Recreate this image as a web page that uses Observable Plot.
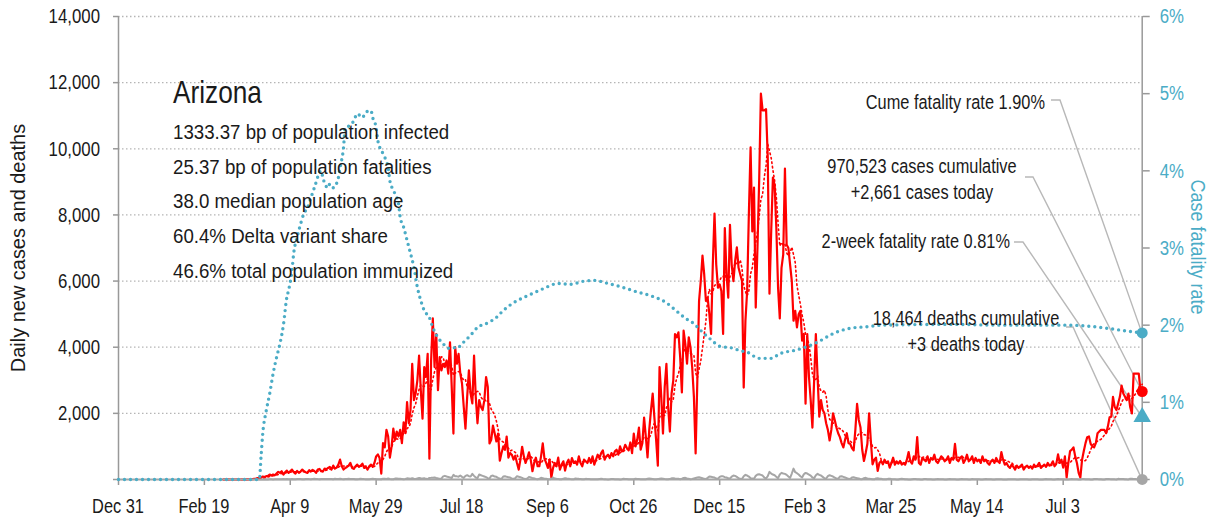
<!DOCTYPE html>
<html><head><meta charset="utf-8">
<script src="https://cdn.jsdelivr.net/npm/d3@7"></script>
<script src="https://cdn.jsdelivr.net/npm/@observablehq/plot@0.6"></script>
<style>
html,body{margin:0;padding:0;background:#fff;}
#chart svg{display:block;}
</style></head><body><div id="chart"></div>
<script>
// ---------------- DATA ----------------
const seriesStartDate = "2020-03-01";
const axisStartDate = "2019-12-31";

// daily new cases, Mar 1 2020 .. Dec 31 2020
const cases2020 = [
  0,0,0,0,0,0,0,0,0,0,0,0,0,0,5,5,10,12,20,25,40,50,60,90,75,100,110,150,120,150,130,
  180,230,200,250,150,220,270,200,250,300,220,180,260,200,240,300,250,220,200,280,240,290,260,200,300,320,250,240,330,310,
  350,380,300,420,330,360,450,600,400,300,350,380,420,500,350,320,400,450,380,420,480,350,380,300,400,450,380,500,700,760,650,
  180,1100,970,1500,1300,660,1000,1540,1200,1450,1300,1500,1100,1730,1400,2340,1700,2100,3500,2400,2600,3000,3750,2700,1840,3400,3100,3800,630,3600,
  4870,3400,4400,2700,3700,3300,3500,3400,3600,3200,4150,2800,1390,4000,3500,3800,3200,2900,2200,1540,2500,3300,2600,2300,3750,2500,1700,2400,2200,2100,2400,
  3100,2800,1090,1200,1630,1400,1150,1390,570,800,1000,900,1300,660,800,750,600,720,500,300,600,990,700,500,650,820,600,250,500,660,400,
  400,700,1090,630,500,350,600,60,350,500,400,660,300,450,550,270,500,600,400,650,500,550,450,700,500,400,600,550,500,650,
  500,700,450,600,750,650,800,880,600,700,750,650,800,700,850,900,750,1000,850,900,1050,950,880,1120,800,1390,1000,1200,1570,900,1100,
  1870,1300,670,1500,2090,2600,1870,1200,420,3400,2500,1390,2800,3500,2200,1450,2600,3000,4400,4300,4450,3700,2630,4500,4100,3500,4300,4000,3400,2500,
  790,3000,5400,6000,6770,6200,5400,5500,5000,4400,6500,8040,6500,5800,5900,5700,4400,7600,6200,5500,7700,6500,6000,6600,7020,6400,6200,6000,2780,4800,5700
];
// daily new cases, Jan 1 2021 .. Aug 18 2021
const cases2021 = [
  8040,10040,7500,8830,5200,7000,9040,11670,11160,11160,11200,9740,5620,7500,9130,8900,7600,5800,4870,6400,6800,9400,7100,7000,6500,6000,4800,5100,4600,5000,5100,
  4200,4400,2290,4400,3100,2400,1570,3000,4400,3100,1900,2400,2100,2000,1700,1500,1180,1500,2000,1800,1570,1400,1280,1100,970,1200,1400,1100,
  1080,950,880,1500,2290,1800,1570,900,560,800,1080,2000,1180,460,600,660,260,500,560,460,600,500,550,360,500,660,450,550,480,560,450,
  500,450,600,830,550,480,700,600,1280,500,450,650,600,550,700,500,650,600,750,550,500,600,700,650,550,600,700,500,650,600,
  1080,600,550,650,700,500,600,750,550,600,700,500,650,550,600,500,700,550,600,500,450,550,600,500,650,550,500,830,600,450,500,
  400,350,450,380,300,420,350,400,450,300,380,420,350,400,330,450,380,420,500,350,400,450,380,500,420,450,550,400,480,760,
  500,600,360,700,60,500,860,900,970,700,500,200,60,600,860,1100,1280,1300,1080,1000,970,1100,1400,1450,1500,1500,1500,1400,1600,1880,1900,
  2500,2190,2100,2300,2500,2840,2600,2500,2400,2600,2190,2000,3200,3200,3200,3200,2700,2661
];
// daily new deaths, Mar 1 2020 .. Dec 31 2020
const deaths2020 = [
  0,0,0,0,0,0,0,0,0,0,0,0,0,0,0,0,0,0,0,1,0,1,2,1,3,2,3,4,5,3,6,
  8,5,10,7,12,9,15,8,11,14,10,9,12,15,13,11,9,14,18,12,10,15,20,16,12,10,18,15,12,14,
  15,12,18,10,20,14,16,22,12,10,18,15,20,14,12,16,8,10,14,20,18,12,10,6,8,15,22,18,12,10,8,
  10,25,20,15,30,18,10,8,28,32,25,20,15,10,18,35,30,25,40,22,15,30,45,35,28,40,20,15,48,50,
  55,60,45,35,20,30,95,110,90,75,60,45,140,100,95,85,120,80,50,110,130,100,90,170,110,60,40,150,130,110,90,
  70,40,30,110,120,90,80,50,25,20,90,100,80,70,60,25,20,40,100,85,70,50,20,15,30,80,60,40,35,15,10,
  20,50,40,25,20,10,5,15,60,30,20,15,10,8,25,40,30,25,15,10,5,30,25,20,18,10,5,20,15,12,
  10,8,6,5,10,15,20,12,10,5,3,8,15,12,10,8,5,3,10,20,15,12,8,6,4,10,25,15,12,10,5,
  5,10,20,30,25,18,10,8,12,25,30,22,15,10,5,20,35,40,30,25,20,10,25,45,50,30,20,10,15,30,
  45,60,70,55,40,20,15,50,90,80,70,60,30,20,80,100,95,70,60,35,25,90,120,110,80,40,20,15,100,140,120
];
// daily new deaths, Jan 1 2021 .. Aug 18 2021
const deaths2021 = [
  90,40,30,20,110,150,160,140,120,60,30,100,230,180,150,130,80,40,150,200,180,170,140,90,50,180,330,220,190,150,100,
  60,160,200,180,150,120,60,40,130,170,140,120,80,40,30,100,130,110,90,60,30,20,90,100,80,60,40,20,
  15,60,70,50,40,30,10,10,40,50,30,25,15,5,5,30,40,25,20,10,5,5,20,25,15,10,8,3,3,15,20,
  15,10,8,3,2,10,15,12,10,8,3,2,12,15,10,8,5,2,2,10,12,10,8,5,3,2,10,12,8,6,
  5,2,1,10,12,8,6,4,2,1,12,10,8,5,4,2,1,10,12,8,6,4,2,1,8,10,6,5,3,1,1,
  8,10,6,5,4,2,1,8,10,6,5,4,2,1,10,8,6,5,3,2,1,10,12,8,6,4,2,1,10,12,
  8,6,4,2,1,0,10,12,8,6,4,2,1,12,15,10,8,5,3,2,15,18,12,10,6,3,2,15,18,12,10,
  8,4,2,20,18,15,12,8,4,3,22,20,15,12,8,5,4,3
];

// cumulative case fatality rate (%)
const cfrDates = [
  "2019-12-31","2020-03-22","2020-03-23","2020-03-24","2020-03-26","2020-03-28","2020-03-30","2020-04-01","2020-04-03","2020-04-05",
  "2020-04-07","2020-04-08","2020-04-10","2020-04-11","2020-04-13","2020-04-15","2020-04-17","2020-04-19","2020-04-21","2020-04-23",
  "2020-04-27","2020-04-28","2020-05-01","2020-05-02","2020-05-04","2020-05-07","2020-05-08","2020-05-10","2020-05-11","2020-05-14",
  "2020-05-16","2020-05-18","2020-05-21","2020-05-23","2020-05-26","2020-05-27","2020-05-29","2020-05-30","2020-06-02","2020-06-05",
  "2020-06-06","2020-06-08","2020-06-11","2020-06-12","2020-06-14","2020-06-16","2020-06-18","2020-06-20","2020-06-22","2020-06-24",
  "2020-06-26","2020-06-29","2020-07-01","2020-07-04","2020-07-07","2020-07-10","2020-07-13","2020-07-15","2020-07-18","2020-07-23",
  "2020-07-27","2020-08-02","2020-08-07","2020-08-11","2020-08-17","2020-08-27","2020-09-03","2020-09-12","2020-09-19","2020-09-27",
  "2020-10-03","2020-10-11","2020-10-18","2020-10-28","2020-11-05","2020-11-14","2020-11-19","2020-11-25","2020-11-30","2020-12-04",
  "2020-12-09","2020-12-16","2020-12-21","2020-12-27","2020-12-31","2021-01-07","2021-01-14","2021-01-19","2021-01-29","2021-02-10",
  "2021-02-19","2021-03-01","2021-03-11","2021-03-20","2021-04-29","2021-05-28","2021-07-05","2021-07-25","2021-08-07","2021-08-18"
];
const cfrValues = [
  0,0,0.3,0.6,0.89,1.11,1.37,1.58,1.76,2.0,
  2.36,2.45,2.71,2.93,3.14,3.31,3.45,3.52,3.65,3.78,
  4.0,3.91,3.78,3.83,3.78,3.91,4.04,4.3,4.56,4.59,
  4.65,4.74,4.69,4.76,4.78,4.69,4.56,4.39,4.22,4.04,
  3.87,3.75,3.58,3.40,3.27,3.10,2.93,2.75,2.49,2.32,
  2.19,2.10,1.97,1.84,1.76,1.70,1.71,1.70,1.76,1.87,
  1.97,2.03,2.10,2.19,2.29,2.40,2.47,2.54,2.53,2.57,
  2.58,2.54,2.50,2.43,2.38,2.29,2.20,2.09,2.02,1.93,
  1.83,1.72,1.71,1.67,1.65,1.57,1.57,1.63,1.68,1.78,
  1.89,1.96,1.98,2.0,2.01,2.0,2.0,1.97,1.93,1.90
];

const xTickDates = ["2019-12-31","2020-02-19","2020-04-09","2020-05-29","2020-07-18","2020-09-06","2020-10-26","2020-12-15","2021-02-03","2021-03-25","2021-05-14","2021-07-03"];
const leftTicks = [0,2000,4000,6000,8000,10000,12000,14000];
const rightTicks = [0,1,2,3,4,5,6];

const stateName = "Arizona";
const statLines = [
  "1333.37 bp of population infected",
  "25.37 bp of population fatalities",
  "38.0 median population age",
  "60.4% Delta variant share",
  "46.6% total population immunized"
];
const cumeCFR = 1.90, twoWeekCFR = 0.81;
const casesCumulative = 970523, casesToday = 2661;
const deathsCumulative = 18464, deathsToday = 3;
const yTitleLeft = "Daily new cases and deaths";
const yTitleRight = "Case fatality rate";

// ---------------- BUILD ----------------
const FONT = '"Liberation Sans", Arial, sans-serif';
const BLUE = "#4bacc6", RED = "#ff0000", GREY = "#a6a6a6", AXIS = "#999999", INK = "#1a1a1a";
const Y_MAX = 14000, CFR_MAX = 6;
const toY = p => p * Y_MAX / CFR_MAX;
const parse = d3.utcParse("%Y-%m-%d");
const start = parse(seriesStartDate);
const casesAll = cases2020.concat(cases2021);
const deathsAll = deaths2020.concat(deaths2021);
const daily = casesAll.map((c, i) => ({date: d3.utcDay.offset(start, i), cases: c, deaths: deathsAll[i]}));
const cfr = cfrDates.map((d, i) => ({date: parse(d), cfr: cfrValues[i]}));
const lastDate = daily[daily.length - 1].date;
const fmt = d3.format(",");
const noText = () => "";

const chart = Plot.plot({
  width: 1208, height: 520,
  marginLeft: 118, marginRight: 66.3, marginTop: 16, marginBottom: 41,
  x: {type: "utc", domain: [parse(axisStartDate), lastDate]},
  y: {domain: [0, Y_MAX]},
  style: {fontFamily: FONT, background: "#fff", overflow: "visible"},
  marks: [
    Plot.ruleY(leftTicks.filter(d => d > 0), {stroke: "#b5b5b5", strokeWidth: 1.3, strokeDasharray: "1.5,2.5"}),
    Plot.axisY(leftTicks, {anchor: "left", tickSize: 5, stroke: AXIS, strokeWidth: 1.5, tickFormat: noText, label: null}),
    Plot.axisY(rightTicks.map(toY), {anchor: "right", tickSize: 7, stroke: AXIS, strokeWidth: 1.5, tickFormat: noText, label: null}),
    Plot.axisX(xTickDates.map(parse), {anchor: "bottom", tickSize: 6, stroke: AXIS, strokeWidth: 1.5, tickFormat: noText, label: null}),
    Plot.ruleX([parse(axisStartDate), lastDate], {stroke: AXIS, strokeWidth: 1.5}),
    Plot.ruleY([0], {stroke: GREY, strokeWidth: 2}),
    Plot.lineY(daily, Plot.windowY({k: 7, anchor: "end", reduce: "mean"}, {x: "date", y: "cases", stroke: RED, strokeWidth: 1.6, strokeDasharray: "1.5,3"})),
    Plot.lineY(daily, {x: "date", y: "cases", stroke: RED, strokeWidth: 2.2}),
    Plot.lineY(daily, {x: "date", y: "deaths", stroke: GREY, strokeWidth: 2}),
    Plot.line(cfr, {x: "date", y: d => toY(d.cfr), stroke: BLUE, strokeWidth: 3.4, strokeDasharray: "0,6", strokeLinecap: "round", curve: "monotone-x"}),
    Plot.dot([{date: lastDate, v: toY(cumeCFR)}], {x: "date", y: "v", r: 5.5, fill: BLUE}),
    Plot.dot([{date: lastDate, v: casesToday}], {x: "date", y: "v", r: 5.5, fill: RED}),
    Plot.dot([{date: lastDate, v: toY(twoWeekCFR)}], {x: "date", y: "v", r: 6.5, fill: BLUE, symbol: "triangle"}),
    Plot.dot([{date: lastDate, v: deathsToday}], {x: "date", y: "v", r: 5.5, fill: GREY})
  ]
});
document.getElementById("chart").appendChild(chart);
// drop the empty label nodes of the tick-only axes
chart.querySelectorAll("text").forEach(n => { if (!n.textContent) n.remove(); });

// ---------------- TEXT ----------------
const svg = d3.select(chart);
const sx = chart.scale("x"), sy = chart.scale("y");
const g = svg.append("g").attr("font-family", FONT).attr("fill", INK).attr("text-anchor", "start");
function label(x, y, size, s, txt, anchor = "start", extra = "") {
  return g.append("text").attr("transform", `translate(${x},${y}) ${extra} scale(${s},1)`)
    .attr("font-size", size).attr("text-anchor", anchor).text(txt);
}

// axis tick labels, placed through the chart's scales
const x0 = sx.apply(parse(axisStartDate)), xEnd = sx.apply(lastDate), yBase = sy.apply(0);
leftTicks.filter(d => d > 0).forEach(v => label(x0 - 18, sy.apply(v) + 7.3, 20.5, 0.82, fmt(v), "end"));
rightTicks.forEach(p => label(xEnd + 18, sy.apply(toY(p)) + 7.3, 20.5, 0.82, `${p}%`, "start").attr("fill", BLUE));
const tickFmt = d3.utcFormat("%b %-d");
xTickDates.forEach(d => label(sx.apply(parse(d)), yBase + 34, 20, 0.82, tickFmt(parse(d)), "middle"));

label(173, 103, 32, 0.82, stateName);
statLines.forEach((t, i) => label(173, 139 + i * 34.7, 21, 0.89, t));

const notes = [
  {lines: [`Cume fatality rate ${cumeCFR.toFixed(2)}%`], anchor: "end", tx: 1045, ty: 109, lx: 1051, ly: 100, lx2: 1060, target: toY(cumeCFR)},
  {lines: [`${fmt(casesCumulative)} cases cumulative`, `+${fmt(casesToday)} cases today`], anchor: "middle", tx: 922, ty: 173, lx: 1025, ly: 177, lx2: 1033, target: casesToday},
  {lines: [`2-week fatality rate ${twoWeekCFR.toFixed(2)}%`], anchor: "end", tx: 1010, ty: 248, lx: 1014, ly: 242, lx2: 1023, target: toY(twoWeekCFR)},
  {lines: [`${fmt(deathsCumulative)} deaths cumulative`, `+${fmt(deathsToday)} deaths today`], anchor: "middle", tx: 966, ty: 325, lx: 1066, ly: 327, lx2: 1073, target: deathsToday}
];
const leaders = svg.insert("g", "g").attr("fill", "none").attr("stroke", "#b8b8b8").attr("stroke-width", 1.4);
notes.forEach(n => {
  leaders.append("polyline").attr("points", `${n.lx},${n.ly} ${n.lx2},${n.ly} ${xEnd},${sy.apply(n.target)}`);
  n.lines.forEach((t, i) => label(n.tx, n.ty + i * 26, 19.5, 0.84, t, n.anchor));
});

label(25, 248, 21, 0.95, yTitleLeft, "middle", "rotate(-90)");
label(1191, 247, 20, 0.9, yTitleRight, "middle", "rotate(90)").attr("fill", BLUE);
</script></body></html>
